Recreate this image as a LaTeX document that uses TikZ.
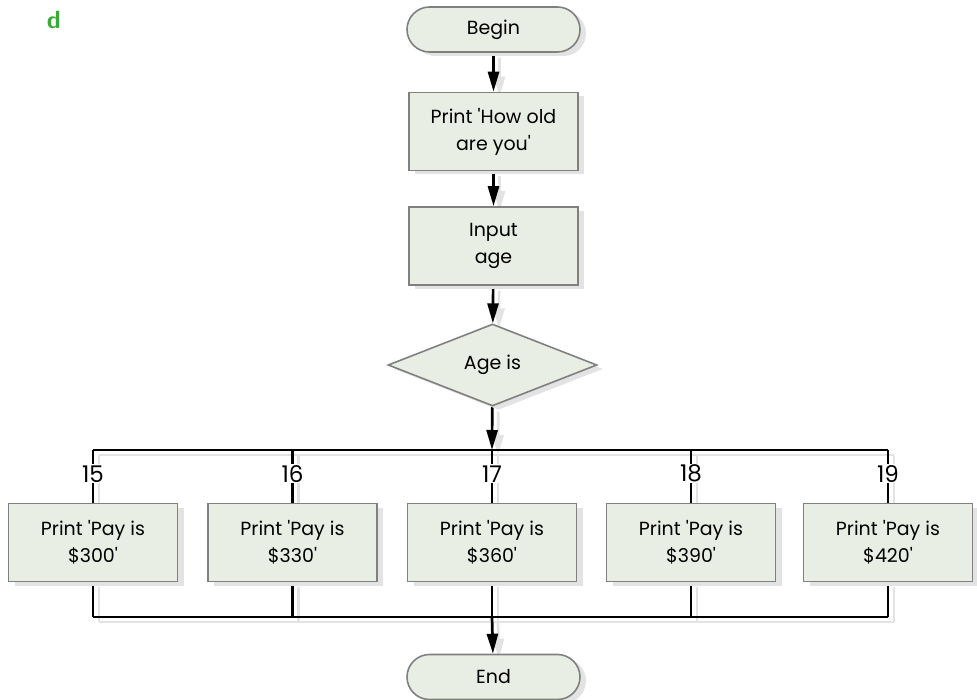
\documentclass[tikz,border=0pt]{standalone}
\usepackage{fontspec}
\setmainfont{Poppins}
\usetikzlibrary{arrows.meta,shapes.geometric,shapes.misc,shadows,calc}
\definecolor{boxfill}{HTML}{E9EEE4}
\definecolor{boxline}{HTML}{808080}
\definecolor{shade}{HTML}{E3E3E3}
\definecolor{lettergreen}{HTML}{3AAA35}
\pgfdeclarelayer{bg}
\pgfsetlayers{bg,main}

% all connectors of the chart, drawn with the style given as argument
\newcommand\flowpaths[1]{%
  \draw[#1,tip] (begin) -- (ask);
  \draw[#1,tip] (ask) -- (input);
  \draw[#1,tip] (input) -- (age);
  \draw[#1,tip] (age) -- (split);
  \draw[#1] (p15.north |- split) -- (p19.north |- split);
  \foreach \b in {p15,p16,p17,p18,p19}{
    \draw[#1] (\b.north |- split) -- (\b.north);
    \draw[#1] (\b.south) -- (\b.south |- join);
  }
  \draw[#1] (p15.south |- join) -- (p19.south |- join);
  \draw[#1,tip] (join) -- (end);
}

\begin{document}
\begin{tikzpicture}[x=1pt,y=-1pt,
  txt/.style={font=\fontsize{19}{27}\selectfont},
  base/.style={txt, draw=boxline, line width=1.6pt, fill=boxfill, align=center,
    inner sep=0pt,
    drop shadow={shadow xshift=6pt, shadow yshift=-4pt, fill=shade, opacity=1}},
  term/.style={base, rounded rectangle, minimum width=173pt, minimum height=45pt},
  proc/.style={base, rectangle, minimum width=169pt, minimum height=78pt},
  decide/.style={base, diamond, aspect=2.55, minimum width=209pt, minimum height=82pt},
  flow/.style={line width=2.7pt, draw=black},
  shadowline/.style={line width=2.7pt, draw=shade, fill=shade},
  tip/.style={-{Triangle[length=20pt,width=11pt]}},
  lbl/.style={font=\fontsize{23}{23}\selectfont, fill=white, inner sep=1pt},
]
\useasboundingbox (0,0) rectangle (977,700);

\node[font=\sffamily\bfseries\fontsize{25}{25}\selectfont, text=lettergreen] (tag) at (54,20) {d};

\node[term] (begin) at (493.5,29.5) {Begin};
\node[proc] (ask) at (493.5,131.5) {Print \textquotesingle How old\\are you\textquotesingle};
\node[proc] (input) at (493.5,246) {Input\\age};
\node[decide] (age) at (492.5,365) {Age is};

\coordinate (split) at (492,450);
\coordinate (join) at (492,617);

\node[proc] (p15) at (93,542.5)    {Print \textquotesingle Pay is\\\$300\textquotesingle};
\node[proc] (p16) at (292.5,542.5) {Print \textquotesingle Pay is\\\$330\textquotesingle};
\node[proc] (p17) at (492,542.5)   {Print \textquotesingle Pay is\\\$360\textquotesingle};
\node[proc] (p18) at (691,542.5)   {Print \textquotesingle Pay is\\\$390\textquotesingle};
\node[proc] (p19) at (888,542.5)   {Print \textquotesingle Pay is\\\$420\textquotesingle};

\node[term] (end) at (493.5,677) {End};

\begin{pgfonlayer}{bg}
  \begin{scope}[transform canvas={shift={(6,5)}}]
    \flowpaths{shadowline}
  \end{scope}
  \flowpaths{flow}
\end{pgfonlayer}

\foreach \b/\v in {p15/15,p16/16,p17/17,p18/18,p19/19}{
  \node[lbl] (n\v) at ($(\b.north)!0.55!(\b.north |- split)$) {\v};
}
\end{tikzpicture}
\end{document}
